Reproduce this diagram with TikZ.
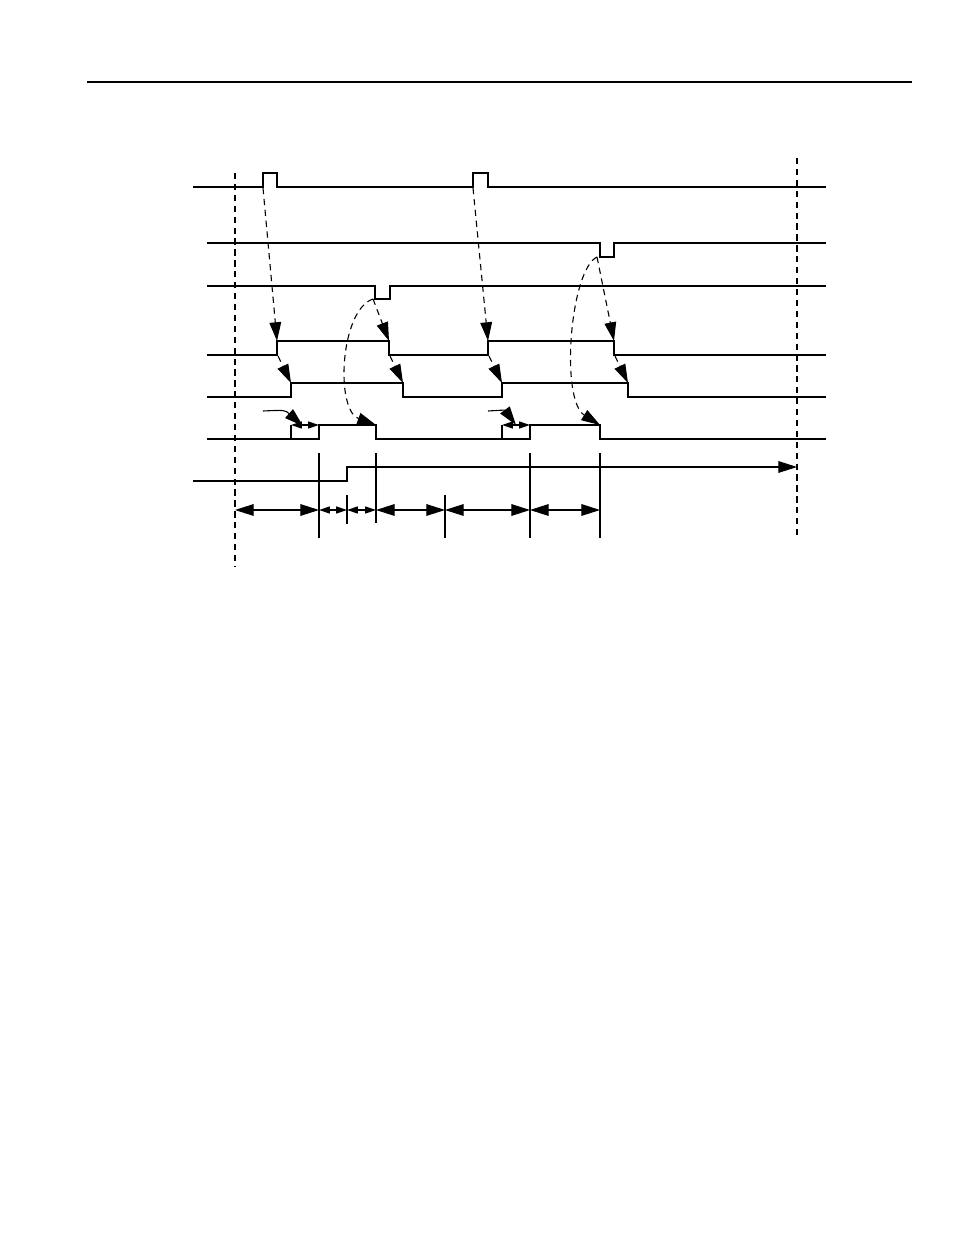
\documentclass[tikz,border=0pt]{standalone}
\usetikzlibrary{arrows.meta}
\begin{document}
\begin{tikzpicture}[x=0.6415bp,y=-0.6415bp,line width=0.7bp]
        \tikzstyle{wave}=[draw, line join=miter]
        \tikzstyle{cause}=[draw, dashed, dash pattern=on 4bp off 3bp, -{Triangle[length=12bp,width=7.5bp]}]
        \tikzstyle{trig}=[draw, -{Triangle[length=12bp,width=7.5bp]}]
        \tikzstyle{bigdim}=[draw, {Triangle[length=12bp,width=7.5bp]}-{Triangle[length=12bp,width=7.5bp]}]
        \tikzstyle{smalldim}=[draw, {Triangle[length=7bp,width=4.5bp]}-{Triangle[length=7bp,width=4.5bp]}]
        \tikzstyle{guide}=[draw, dashed, dash pattern=on 4bp off 3bp]
        \useasboundingbox (0,0) rectangle (954,1235);
        \draw[line width=1bp] (87,82) -- (912,82);
       \begin{scope}
         % signal traces
         \draw[wave] (193,187) -- (263,187) -- (263,173) -- (277,173) -- (277,187) -- (473,187) -- (473,173) -- (488,173) -- (488,187) -- (826,187);
         \draw[wave] (207,243) -- (600,243) -- (600,257) -- (614,257) -- (614,243) -- (826,243);
         \draw[wave] (207,286) -- (375,286) -- (375,299) -- (390,299) -- (390,286) -- (826,286);
         \draw[wave] (207,355) -- (277,355) -- (277,341) -- (389,341) -- (389,355) -- (488,355) -- (488,341) -- (614,341) -- (614,355) -- (826,355);
         \draw[wave] (207,397) -- (291,397) -- (291,383) -- (403,383) -- (403,397) -- (502,397) -- (502,383) -- (628,383) -- (628,397) -- (826,397);
         \draw[wave] (207,439) -- (319,439) -- (319,425) -- (376,425) -- (376,439) -- (530,439) -- (530,425) -- (600,425) -- (600,439) -- (826,439);
         \draw[wave] (291,439) -- (291,425);
         \draw[wave] (502,439) -- (502,425);
         \coordinate (runstart) at (193,481);
         \coordinate (runend) at (797,467);
         \draw[trig] (runstart) -- (347,481) -- (347,467) -- (runend);
        \end{scope}
       \begin{scope}
         % edges
         \coordinate (a1) at (263,188);
         \coordinate (a2) at (473,188);
         \coordinate (d1) at (373,299);
         \coordinate (d2) at (597,257);
         \coordinate (r1) at (277,341);
         \coordinate (f1) at (389,341);
         \coordinate (r2) at (488,341);
         \coordinate (f2) at (614,341);
         \coordinate (q1) at (278,356);
         \coordinate (q2) at (390,356);
         \coordinate (q3) at (489,356);
         \coordinate (q4) at (615,356);
         \coordinate (s1) at (291,383);
         \coordinate (s2) at (403,383);
         \coordinate (s3) at (502,383);
         \coordinate (s4) at (628,383);
         \coordinate (g1) at (376,425);
         \coordinate (g2) at (600,425);
         \path[cause] (a1) -- (r1);
         \path[cause] (a2) -- (r2);
         \path[cause] (d1) -- (f1);
         \path[cause] (d2) -- (f2);
         \path[cause] (d1) .. controls (340,310) and (335,410) .. (g1);
         \path[cause] (d2) .. controls (570,270) and (560,400) .. (g2);
         \path[cause] (q1) -- (s1);
         \path[cause] (q2) -- (s2);
         \path[cause] (q3) -- (s3);
         \path[cause] (q4) -- (s4);
         \coordinate (c1) at (263,411);
         \coordinate (c2) at (488,411);
         \path[trig] (c1) .. controls (285,410) .. (303,426);
         \path[trig] (c2) .. controls (505,410) .. (516,425);
         \path[smalldim] (291,425) -- (319,425);
         \path[smalldim] (502,425) -- (530,425);
        \end{scope}
       \begin{scope}
         % time marks
         \path[guide] (235,173) -- (235,567);
         \path[guide] (797,158) -- (797,538);
         \draw (319,453) -- (319,538);
         \draw (376,453) -- (376,523);
         \draw (347,495) -- (347,524);
         \draw (445,495) -- (445,538);
         \draw (530,453) -- (530,538);
         \draw (600,453) -- (600,538);
         \path[bigdim] (235,510) -- (319,510);
         \path[smalldim] (319,510) -- (347,510);
         \path[smalldim] (347,510) -- (376,510);
         \path[bigdim] (376,510) -- (445,510);
         \path[bigdim] (445,510) -- (530,510);
         \path[bigdim] (530,510) -- (600,510);
        \end{scope}
      \end{tikzpicture}
\end{document}
